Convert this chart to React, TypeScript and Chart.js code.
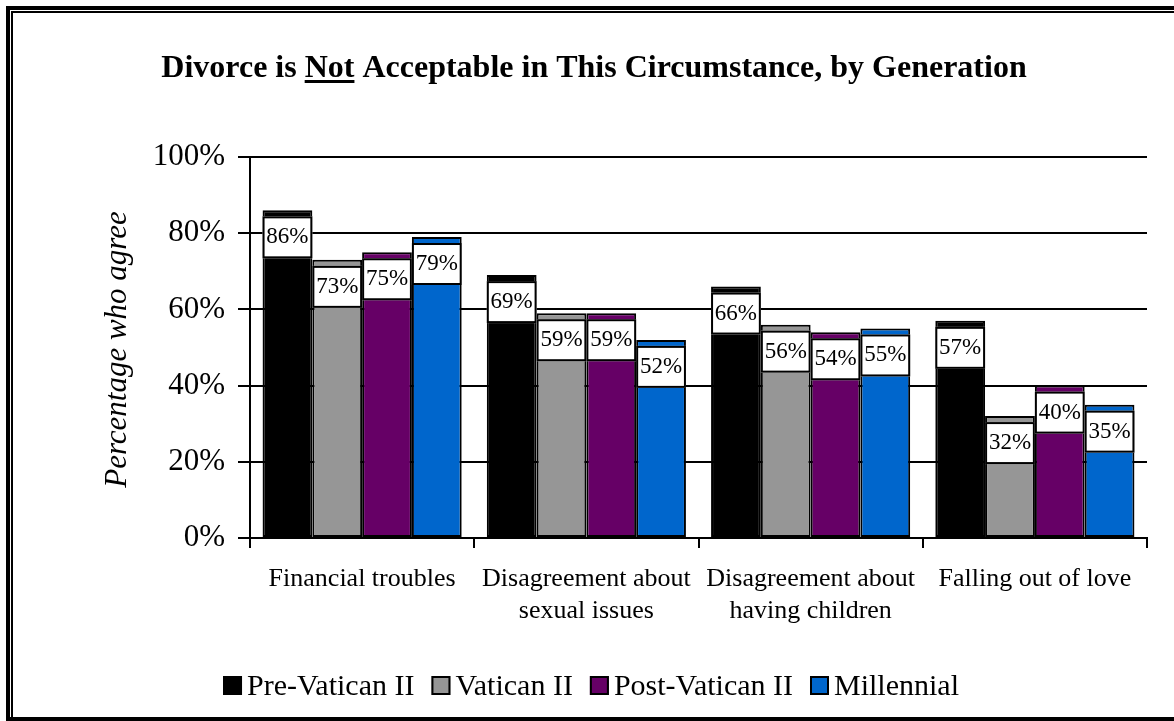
import React, { useEffect, useRef } from "react";
import { Chart, registerables } from "chart.js";

Chart.register(...registerables);

const categories: string[][] = [
  ["Financial troubles"],
  ["Disagreement about", "sexual issues"],
  ["Disagreement about", "having children"],
  ["Falling out of love"],
];
const seriesNames = ["Pre-Vatican II", "Vatican II", "Post-Vatican II", "Millennial"];
const preVatican = [86, 69, 66, 57];
const vatican = [73, 59, 56, 32];
const postVatican = [75, 59, 54, 40];
const millennial = [79, 52, 55, 35];
const seriesColors = ["#000000", "#969696", "#660066", "#0066CC"];
const yMin = 0;
const yMax = 100;
const yStep = 20;
const titleParts = ["Divorce is ", "Not", " Acceptable in This Circumstance, by Generation"];
const yTitle = "Percentage who agree";

const SERIF = "'Liberation Serif', 'Times New Roman', serif";

const W = 1174;
const H = 721;

const overlayPlugin = {
  id: "overlay",
  afterDatasetsDraw(chart: any) {
    const ctx = chart.ctx;
    ctx.save();
    chart.data.datasets.forEach((ds: any, di: number) => {
      const meta = chart.getDatasetMeta(di);
      meta.data.forEach((el: any, i: number) => {
        const p = el.getProps(["x", "y", "width"], true);
        const left = p.x - p.width / 2;
        const top = p.y + 6;
        const h = 42;
        ctx.fillStyle = "#ffffff";
        ctx.fillRect(left, top, p.width, h);
        ctx.strokeStyle = "#000000";
        ctx.lineWidth = 2;
        ctx.strokeRect(left + 1, top + 1, p.width - 2, h - 2);
        ctx.fillStyle = "#000000";
        ctx.font = `23px ${SERIF}`;
        ctx.textAlign = "center";
        ctx.textBaseline = "middle";
        ctx.fillText(`${ds.data[i]}%`, p.x, top + h / 2);
      });
    });
    ctx.restore();
  },
  afterDraw(chart: any) {
    const ctx = chart.ctx;
    ctx.save();
    // Title
    ctx.font = `bold 32px ${SERIF}`;
    ctx.fillStyle = "#000";
    ctx.textBaseline = "alphabetic";
    ctx.textAlign = "left";
    const widths = titleParts.map((t) => ctx.measureText(t).width);
    const total = widths.reduce((a, b) => a + b, 0);
    let x = 594 - total / 2;
    const baseY = 77;
    titleParts.forEach((t, i) => {
      ctx.fillText(t, x, baseY);
      if (i === 1) {
        ctx.fillRect(x, 80, widths[i], 3);
      }
      x += widths[i];
    });
    // Y axis title
    ctx.save();
    ctx.font = `italic 31px ${SERIF}`;
    ctx.translate(126, (chart.chartArea.top + chart.chartArea.bottom) / 2 + 2);
    ctx.rotate(-Math.PI / 2);
    ctx.textAlign = "center";
    ctx.textBaseline = "alphabetic";
    ctx.fillText(yTitle, 0, 0);
    ctx.restore();
    // Legend
    ctx.font = `30px ${SERIF}`;
    const box = 19;
    const gapBoxText = 5;
    const gapItems = 17;
    const tw = seriesNames.map((n) => ctx.measureText(n).width);
    const legTotal = tw.reduce((a, w) => a + box + gapBoxText + w, 0) + gapItems * (seriesNames.length - 1);
    let lx = 591 - legTotal / 2;
    const legBase = 695;
    seriesNames.forEach((n, i) => {
      ctx.fillStyle = seriesColors[i];
      ctx.fillRect(lx, legBase - box, box, box);
      ctx.strokeStyle = "#000";
      ctx.lineWidth = 2;
      ctx.strokeRect(lx + 1, legBase - box + 1, box - 2, box - 2);
      ctx.fillStyle = "#000";
      ctx.textAlign = "left";
      ctx.textBaseline = "alphabetic";
      ctx.fillText(n, lx + box + gapBoxText, legBase);
      lx += box + gapBoxText + tw[i] + gapItems;
    });
    ctx.restore();
  },
};

export default function App() {
  const ref = useRef<HTMLCanvasElement | null>(null);

  useEffect(() => {
    if (!ref.current) return;
    const series = [preVatican, vatican, postVatican, millennial];
    const chart = new Chart(ref.current, {
      type: "bar",
      data: {
        labels: categories,
        datasets: series.map((d, i) => ({
          label: seriesNames[i],
          data: d,
          backgroundColor: seriesColors[i],
          borderColor: "#000000",
          borderWidth: 2,
          borderSkipped: false,
          barPercentage: 1,
          categoryPercentage: 0.888,
        })),
      },
      options: {
        responsive: false,
        animation: false,
        devicePixelRatio: 1,
        layout: { padding: { left: 0, top: 157, right: 27, bottom: 0 } },
        plugins: {
          legend: { display: false },
          title: { display: false },
          tooltip: { enabled: false },
        },
        scales: {
          x: {
            offset: true,
            grid: {
              display: true,
              drawOnChartArea: false,
              drawTicks: true,
              tickLength: 10,
              color: "#000",
              lineWidth: 2,
              offset: true,
            },
            border: { display: true, color: "#000", width: 2 },
            ticks: {
              color: "#000",
              font: { family: SERIF, size: 26, lineHeight: 1.2 },
              padding: 16,
              maxRotation: 0,
              minRotation: 0,
              autoSkip: false,
            },
            afterFit: (s: any) => {
              s.height = 183;
            },
          },
          y: {
            min: yMin,
            max: yMax,
            ticks: {
              stepSize: yStep,
              color: "#000",
              font: { family: SERIF, size: 31 },
              padding: 13,
              callback: (v: any) => `${v}%`,
            },
            grid: {
              color: "#000",
              lineWidth: 2,
              tickLength: 12,
              drawTicks: true,
            },
            border: { display: true, color: "#000", width: 2 },
            afterFit: (s: any) => {
              s.width = 250;
            },
          },
        },
      },
      plugins: [overlayPlugin],
    });
    return () => chart.destroy();
  }, []);

  return (
    <div
      style={{
        position: "absolute",
        left: 0,
        top: 0,
        width: W,
        height: H,
        overflow: "hidden",
        background: "#fff",
      }}
    >
      <canvas ref={ref} width={W} height={H} style={{ position: "absolute", left: 0, top: 0, width: W, height: H }} />
      <div
        style={{
          position: "absolute",
          left: 6,
          top: 6,
          width: 1250,
          height: H - 6,
          boxSizing: "border-box",
          borderTop: "4px solid #000",
          borderLeft: "4px solid #000",
          borderBottom: "4px solid #000",
          pointerEvents: "none",
        }}
      />
      <div
        style={{
          position: "absolute",
          left: 11,
          top: 11,
          width: 1250,
          height: H - 15,
          boxSizing: "border-box",
          borderTop: "2px solid #000",
          borderLeft: "2px solid #000",
          pointerEvents: "none",
        }}
      />
    </div>
  );
}
